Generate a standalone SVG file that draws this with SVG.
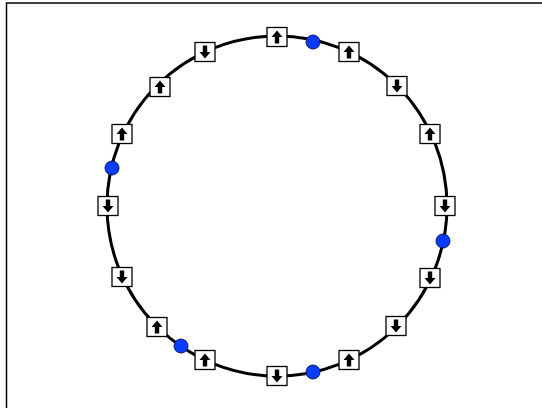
<svg xmlns="http://www.w3.org/2000/svg" width="542" height="408" viewBox="0 0 542 408">
<defs>
<style>
.box{fill:#fff;stroke:#000;stroke-width:1.3}
.ring{fill:none;stroke:#000;stroke-width:3}
.dot{fill:#0a3cff;stroke:#0a1a60;stroke-width:1}
.arr{fill:#000}
</style>
<g id="up"><rect class="box" x="-10" y="-9.5" width="20" height="19"/><path class="arr" d="M0,-6.5 L5.5,0 L2.2,0 L2.2,6.5 L-2.2,6.5 L-2.2,0 L-5.5,0 Z"/></g>
<g id="down"><rect class="box" x="-10" y="-9.5" width="20" height="19"/><path class="arr" d="M0,6.5 L5.5,0 L2.2,0 L2.2,-6.5 L-2.2,-6.5 L-2.2,0 L-5.5,0 Z"/></g>
</defs>
<rect x="0" y="0" width="542" height="408" fill="#fff"/>
<path d="M6.5,408 V3 H542" fill="none" stroke="#000" stroke-width="1.5"/>
<g id="connectors">
<circle class="ring" cx="277" cy="206" r="170"/>
</g>
<g id="n1"><use href="#up" x="277" y="37"/></g>
<g id="n2"><use href="#down" x="205" y="52"/></g>
<g id="n3"><use href="#up" x="160" y="87"/></g>
<g id="n4"><use href="#up" x="122" y="134"/></g>
<g id="n5"><use href="#down" x="108" y="206"/></g>
<g id="n6"><use href="#down" x="122" y="277"/></g>
<g id="n7"><use href="#up" x="157" y="327"/></g>
<g id="n8"><use href="#up" x="205" y="360"/></g>
<g id="n9"><use href="#down" x="277" y="376"/></g>
<g id="n10"><use href="#up" x="349" y="360"/></g>
<g id="n11"><use href="#down" x="396" y="326"/></g>
<g id="n12"><use href="#down" x="430" y="278"/></g>
<g id="n13"><use href="#down" x="445" y="206"/></g>
<g id="n14"><use href="#up" x="430" y="134"/></g>
<g id="n15"><use href="#down" x="397" y="86"/></g>
<g id="n16"><use href="#up" x="349" y="52"/></g>
<g id="d1"><circle class="dot" cx="313" cy="42" r="7"/></g>
<g id="d2"><circle class="dot" cx="112" cy="168" r="7"/></g>
<g id="d3"><circle class="dot" cx="443" cy="241" r="7"/></g>
<g id="d4"><circle class="dot" cx="181" cy="346" r="7"/></g>
<g id="d5"><circle class="dot" cx="313" cy="372" r="7"/></g>
</svg>
